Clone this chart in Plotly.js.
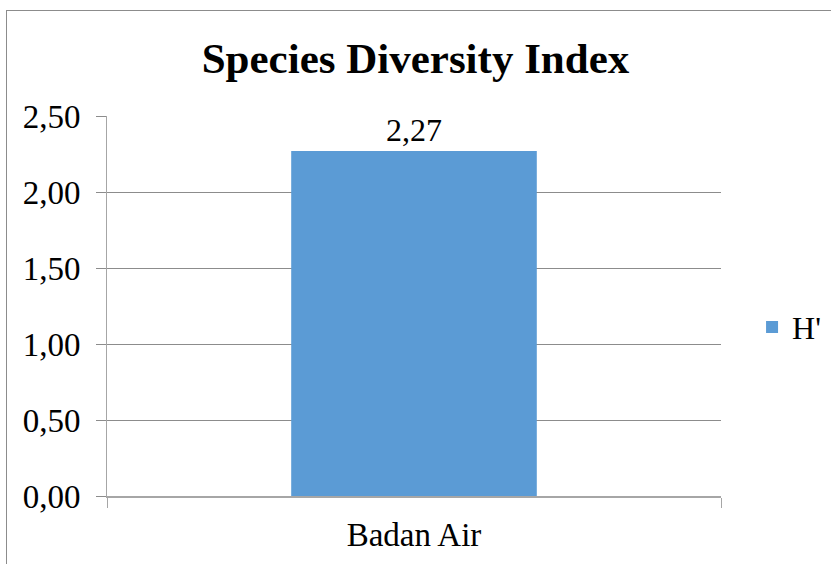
<!DOCTYPE html>
<html>
<head>
<meta charset="utf-8">
<script src="https://cdn.plot.ly/plotly-3.0.1.min.js"></script>
<style>
  html, body { margin: 0; padding: 0; background: #fff; }
  #frame { position: absolute; left: 6px; top: 10px; width: 840px; height: 570px; border: 1px solid #8c8c8c; pointer-events: none; }
  #chart { position: absolute; left: 0; top: 0; width: 831px; height: 564px; }
</style>
</head>
<body>
<div id="chart"></div>
<div id="frame"></div>
<script>
const categories = ["Badan Air"];
const seriesName = "H'";
const values = [2.27];
const yTickVals = [0, 0.5, 1.0, 1.5, 2.0, 2.5];

const font = "Times New Roman, Liberation Serif, DejaVu Serif, serif";

const trace = {
  type: 'bar',
  x: categories,
  y: values,
  name: seriesName,
  width: 0.4,
  marker: { color: '#5B9BD5' },
  texttemplate: '%{y:.2f}',
  textposition: 'outside',
  cliponaxis: false,
  textfont: { family: font, size: 32, color: '#000' },
  showlegend: true
};

const layout = {
  width: 831,
  height: 564,
  separators: ',.',
  paper_bgcolor: '#fff',
  plot_bgcolor: '#fff',
  margin: { l: 107, r: 110, t: 116, b: 68 },
  font: { family: font, color: '#000' },
  title: {
    text: '<b>Species Diversity Index</b>',
    font: { family: font, size: 43, color: '#000' },
    x: 0.5, xanchor: 'center',
    y: 0.897, yanchor: 'middle', yref: 'container'
  },
  xaxis: {
    type: 'category',
    range: [-0.5, 0.5],
    showgrid: false,
    showline: true,
    linecolor: '#a6a6a6',
    linewidth: 1.5,
    ticks: 'outside',
    tickson: 'boundaries',
    ticklen: 10,
    tickcolor: '#a6a6a6',
    tickfont: { family: font, size: 33, color: '#000' },
    ticklabelstandoff: 9
  },
  yaxis: {
    range: [0, 2.5],
    tickvals: yTickVals,
    tickformat: '.2f',
    showgrid: true,
    gridcolor: '#8c8c8c',
    gridwidth: 1,
    zeroline: false,
    showline: true,
    linecolor: '#a6a6a6',
    linewidth: 1,
    ticks: 'outside',
    ticklen: 10,
    tickcolor: '#8c8c8c',
    tickfont: { family: font, size: 33, color: '#000' },
    ticklabelstandoff: 9
  },
  legend: {
    xref: 'container', yref: 'container',
    x: 0.905, xanchor: 'left',
    y: 0.42, yanchor: 'middle',
    font: { family: font, size: 32, color: '#000' },
    itemwidth: 30,
    bgcolor: 'rgba(0,0,0,0)'
  },
  showlegend: true
};

Plotly.newPlot('chart', [trace], layout, { displayModeBar: false, staticPlot: true });
</script>
</body>
</html>
